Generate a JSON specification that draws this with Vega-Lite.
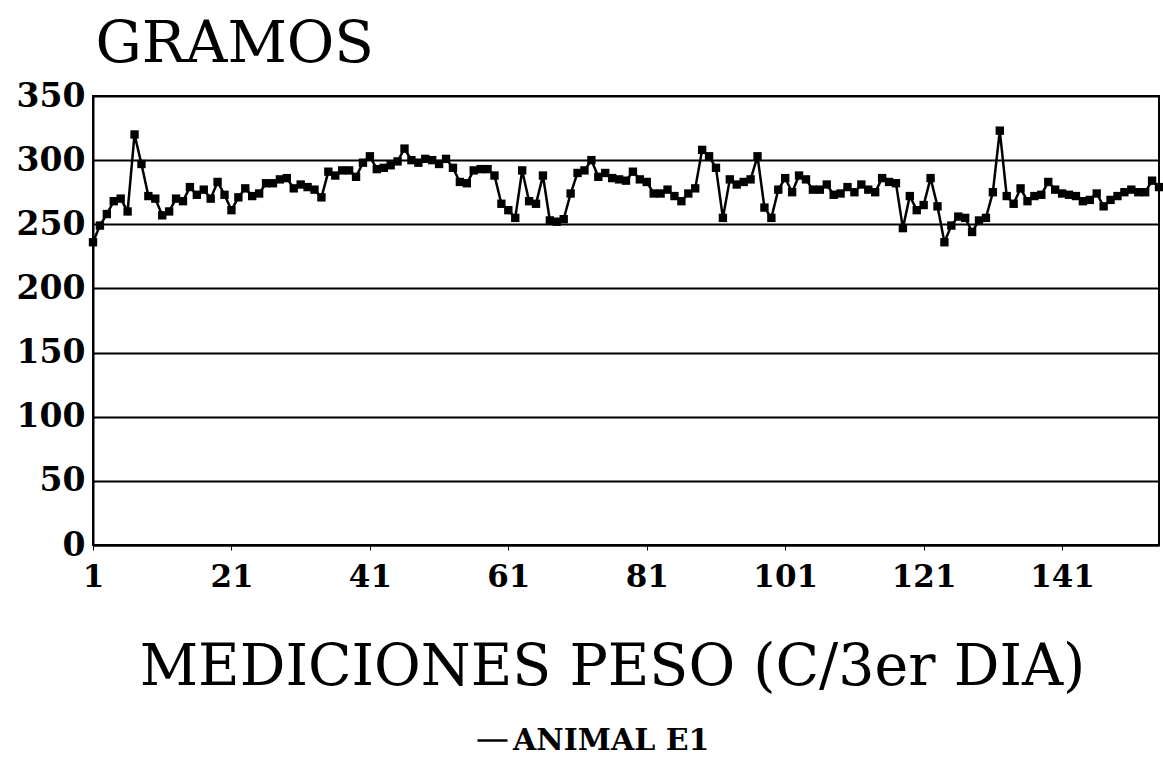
{
  "$schema": "https://vega.github.io/schema/vega-lite/v6.json",
  "width": 1066,
  "height": 449,
  "autosize": {"type": "none"},
  "padding": {"left": 93, "top": 96, "right": 4, "bottom": 230},
  "background": "white",
  "config": {
    "view": {"stroke": "black", "strokeWidth": 2},
    "axis": {"domainColor": "black", "domainWidth": 2, "labelColor": "black", "titleColor": "black"}
  },
  "data": {
    "values": [
      {"m":1,"g":236},{"m":2,"g":249},{"m":3,"g":258},{"m":4,"g":268},{"m":5,"g":270},
      {"m":6,"g":260},{"m":7,"g":320},{"m":8,"g":297},{"m":9,"g":272},{"m":10,"g":270},
      {"m":11,"g":257},{"m":12,"g":260},{"m":13,"g":270},{"m":14,"g":268},{"m":15,"g":279},
      {"m":16,"g":273},{"m":17,"g":277},{"m":18,"g":270},{"m":19,"g":283},{"m":20,"g":273},
      {"m":21,"g":261},{"m":22,"g":271},{"m":23,"g":278},{"m":24,"g":272},{"m":25,"g":274},
      {"m":26,"g":282},{"m":27,"g":282},{"m":28,"g":285},{"m":29,"g":286},{"m":30,"g":278},
      {"m":31,"g":281},{"m":32,"g":279},{"m":33,"g":277},{"m":34,"g":271},{"m":35,"g":291},
      {"m":36,"g":288},{"m":37,"g":292},{"m":38,"g":292},{"m":39,"g":287},{"m":40,"g":298},
      {"m":41,"g":303},{"m":42,"g":293},{"m":43,"g":294},{"m":44,"g":296},{"m":45,"g":299},
      {"m":46,"g":309},{"m":47,"g":300},{"m":48,"g":298},{"m":49,"g":301},{"m":50,"g":300},
      {"m":51,"g":297},{"m":52,"g":301},{"m":53,"g":294},{"m":54,"g":283},{"m":55,"g":282},
      {"m":56,"g":292},{"m":57,"g":293},{"m":58,"g":293},{"m":59,"g":288},{"m":60,"g":266},
      {"m":61,"g":261},{"m":62,"g":255},{"m":63,"g":292},{"m":64,"g":268},{"m":65,"g":266},
      {"m":66,"g":288},{"m":67,"g":253},{"m":68,"g":252},{"m":69,"g":254},{"m":70,"g":274},
      {"m":71,"g":290},{"m":72,"g":292},{"m":73,"g":300},{"m":74,"g":287},{"m":75,"g":290},
      {"m":76,"g":286},{"m":77,"g":285},{"m":78,"g":284},{"m":79,"g":291},{"m":80,"g":285},
      {"m":81,"g":283},{"m":82,"g":274},{"m":83,"g":274},{"m":84,"g":277},{"m":85,"g":272},
      {"m":86,"g":268},{"m":87,"g":274},{"m":88,"g":278},{"m":89,"g":308},{"m":90,"g":303},
      {"m":91,"g":294},{"m":92,"g":255},{"m":93,"g":285},{"m":94,"g":281},{"m":95,"g":283},
      {"m":96,"g":285},{"m":97,"g":303},{"m":98,"g":263},{"m":99,"g":255},{"m":100,"g":277},
      {"m":101,"g":286},{"m":102,"g":275},{"m":103,"g":288},{"m":104,"g":285},{"m":105,"g":277},
      {"m":106,"g":277},{"m":107,"g":281},{"m":108,"g":273},{"m":109,"g":274},{"m":110,"g":279},
      {"m":111,"g":275},{"m":112,"g":281},{"m":113,"g":277},{"m":114,"g":275},{"m":115,"g":286},
      {"m":116,"g":283},{"m":117,"g":282},{"m":118,"g":247},{"m":119,"g":272},{"m":120,"g":261},
      {"m":121,"g":265},{"m":122,"g":286},{"m":123,"g":264},{"m":124,"g":236},{"m":125,"g":249},
      {"m":126,"g":256},{"m":127,"g":255},{"m":128,"g":244},{"m":129,"g":253},{"m":130,"g":255},
      {"m":131,"g":275},{"m":132,"g":323},{"m":133,"g":272},{"m":134,"g":266},{"m":135,"g":278},
      {"m":136,"g":268},{"m":137,"g":272},{"m":138,"g":273},{"m":139,"g":283},{"m":140,"g":277},
      {"m":141,"g":274},{"m":142,"g":273},{"m":143,"g":272},{"m":144,"g":268},{"m":145,"g":269},
      {"m":146,"g":274},{"m":147,"g":264},{"m":148,"g":269},{"m":149,"g":272},{"m":150,"g":275},
      {"m":151,"g":277},{"m":152,"g":275},{"m":153,"g":275},{"m":154,"g":284},{"m":155,"g":279}
    ]
  },
  "encoding": {
    "x": {
      "field": "m", "type": "quantitative",
      "scale": {"domain": [1, 155], "nice": false, "zero": false},
      "axis": {
        "values": [1, 21, 41, 61, 81, 101, 121, 141],
        "grid": false,
        "ticks": true, "tickSize": 5, "tickColor": "black", "tickWidth": 1,
        "labelFont": "DejaVu Serif", "labelFontWeight": "bold", "labelFontSize": 31,
        "labelPadding": 12, "labelFlush": false,
        "title": "MEDICIONES PESO (C/3er DIA)",
        "titleFont": "DejaVu Serif", "titleFontWeight": "normal", "titleFontSize": 57,
        "titleX": 519, "titleY": 139, "titleAlign": "center", "titleBaseline": "alphabetic"
      }
    },
    "y": {
      "field": "g", "type": "quantitative",
      "scale": {"domain": [0, 350], "nice": false},
      "axis": {
        "values": [0, 50, 100, 150, 200, 250, 300, 350],
        "grid": true, "gridColor": "black", "gridWidth": 2, "gridOpacity": 1,
        "ticks": false,
        "labelFont": "DejaVu Serif", "labelFontWeight": "bold", "labelFontSize": 33,
        "labelPadding": 8,
        "title": "GRAMOS",
        "titleFont": "DejaVu Serif", "titleFontWeight": "normal", "titleFontSize": 58,
        "titleAngle": 0, "titleAlign": "left", "titleBaseline": "alphabetic",
        "titleX": 2, "titleY": -35
      }
    },
    "color": {
      "datum": "ANIMAL E1",
      "type": "nominal",
      "scale": {"range": ["black"]},
      "legend": {
        "title": null, "orient": "none", "legendX": 383, "legendY": 628,
        "symbolType": "stroke", "symbolStrokeWidth": 2.5, "symbolSize": 900,
        "labelFont": "DejaVu Serif", "labelFontWeight": "bold", "labelFontSize": 30,
        "labelColor": "black", "labelLimit": 0
      }
    }
  },
  "layer": [
    {"mark": {"type": "line", "strokeWidth": 2.5}},
    {"mark": {"type": "point", "shape": "square", "filled": true, "size": 70, "opacity": 1}}
  ]
}
